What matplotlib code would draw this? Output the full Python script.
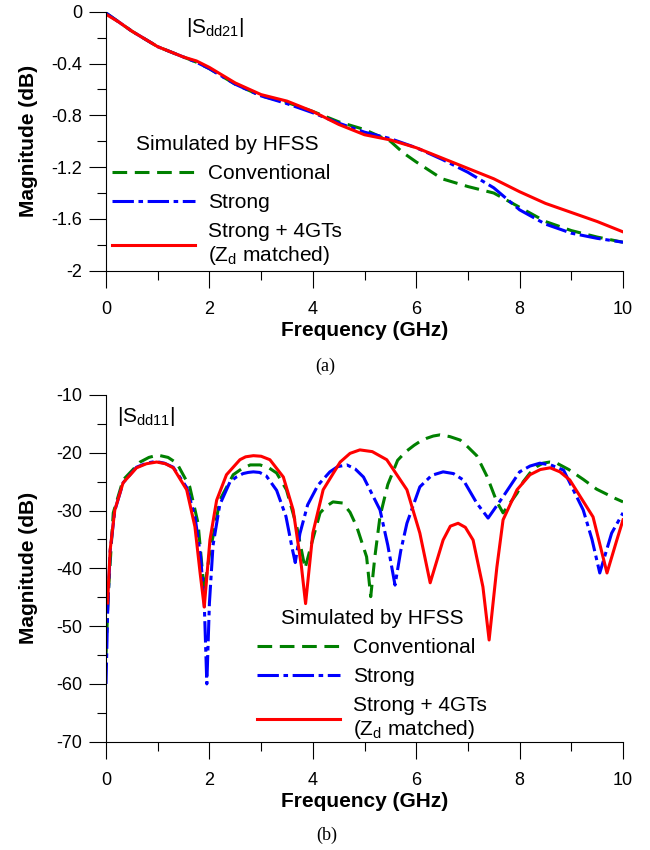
import matplotlib
matplotlib.use('Agg')
import matplotlib.pyplot as plt
from matplotlib.ticker import MultipleLocator, FuncFormatter

plt.rcParams['font.family'] = ['Liberation Sans', 'DejaVu Sans']
plt.rcParams['mathtext.fontset'] = 'custom'
plt.rcParams['mathtext.rm'] = 'Liberation Sans'
plt.rcParams['mathtext.it'] = 'Liberation Sans'
plt.rcParams['axes.unicode_minus'] = False

# ---- data: (a) |Sdd21| ----
f21_red = [0, 0.25, 0.5, 0.75, 1, 1.25, 1.5, 1.75, 2, 2.5, 3, 3.5, 4, 4.5, 4.75, 5, 5.25, 5.5, 5.75,
           6, 6.5, 7, 7.5, 8, 8.5, 9, 9.5, 10]
s21_red = [-0.02, -0.08, -0.15, -0.21, -0.27, -0.31, -0.35, -0.38, -0.43, -0.55, -0.64, -0.69, -0.77,
           -0.87, -0.91, -0.95, -0.97, -0.99, -1.02, -1.05, -1.13, -1.21, -1.29, -1.39, -1.48, -1.55,
           -1.62, -1.70]
f21_blue = [0, 0.25, 0.5, 0.75, 1, 1.25, 1.5, 1.75, 2, 2.5, 3, 3.5, 4, 4.5, 5, 5.5, 6, 6.5, 7, 7.5,
            8, 8.5, 9, 9.5, 10]
s21_blue = [-0.01, -0.08, -0.15, -0.21, -0.27, -0.31, -0.35, -0.39, -0.44, -0.56, -0.65, -0.71, -0.78,
            -0.86, -0.93, -0.98, -1.05, -1.14, -1.24, -1.36, -1.53, -1.64, -1.71, -1.75, -1.78]
f21_green = [0, 0.25, 0.5, 0.75, 1, 1.25, 1.5, 1.75, 2, 2.5, 3, 3.5, 4, 4.5, 5, 5.5, 5.75, 6, 6.5, 7,
             7.5, 8, 8.5, 9, 9.5, 10]
s21_green = [-0.01, -0.08, -0.15, -0.21, -0.27, -0.31, -0.35, -0.39, -0.44, -0.56, -0.65, -0.70,
             -0.77, -0.85, -0.91, -1.00, -1.09, -1.16, -1.29, -1.35, -1.40, -1.51, -1.62, -1.69,
             -1.74, -1.78]

# ---- data: (b) |Sdd11| ----
f11_green = [0.0, 0.04, 0.14, 0.33, 0.66, 0.83, 1.0, 1.2, 1.37, 1.62, 1.78, 1.9, 2.01, 2.11, 2.2, 2.46,
             2.62, 2.79, 2.98, 3.15, 3.3, 3.49, 3.69, 3.85, 3.98, 4.14, 4.27, 4.39, 4.58, 4.72, 4.85,
             5.04, 5.12, 5.2, 5.3, 5.45, 5.64, 5.8, 5.96, 6.08, 6.2, 6.33, 6.46, 6.65, 6.85, 7.0, 7.17,
             7.37, 7.56, 7.68, 7.95, 8.07, 8.2, 8.33, 8.45, 8.58, 8.72, 8.95, 9.23, 9.49, 9.85, 10.0]
s11_green = [-55, -45, -30.4, -24.7, -21.6, -20.8, -20.4, -20.8, -21.8, -25.9, -32.2, -44, -37, -32.8,
             -28.2, -23.8, -22.8, -22.1, -22.1, -22.6, -23.5, -26.4, -32.8, -40, -35.6, -30.4, -29.2,
             -28.5, -28.7, -30.3, -32.8, -38, -44.9, -38, -31, -25.5, -21.3, -19.8, -18.7, -18.0,
             -17.5, -17.1, -16.9, -17.2, -17.8, -19.0, -20.5, -24.1, -28.5, -30.4, -27, -25.0, -23.5,
             -22.4, -21.8, -21.6, -21.8, -22.9, -24.6, -26.3, -27.9, -28.5]
f11_blue = [0.0, 0.03, 0.08, 0.17, 0.33, 0.59, 0.78, 0.96, 1.13, 1.3, 1.56, 1.72, 1.83, 1.9, 1.95, 2.0,
            2.07, 2.2, 2.4, 2.52, 2.65, 2.75, 2.85, 2.97, 3.1, 3.3, 3.48, 3.6, 3.66, 3.75, 3.9, 4.1,
            4.33, 4.48, 4.66, 4.82, 4.98, 5.3, 5.45, 5.59, 5.7, 5.82, 6.07, 6.3, 6.52, 6.72, 6.91,
            7.17, 7.39, 7.68, 8.0, 8.2, 8.39, 8.6, 8.85, 9.23, 9.4, 9.55, 9.78, 10.0]
s11_blue = [-60, -48, -37, -30, -25.2, -22.5, -21.8, -21.5, -21.8, -22.5, -26, -31, -38, -46, -60, -46,
            -36, -29, -25, -24.2, -23.6, -23.4, -23.3, -23.4, -24, -26.5, -31, -36.5, -39, -34, -29,
            -25.6, -23.3, -22.4, -22.1, -22.8, -24.2, -29.9, -36, -42.9, -37, -32.2, -25.9, -23.9,
            -23.3, -23.6, -24.7, -28.7, -31.3, -27.6, -23.3, -22.3, -21.8, -22.1, -23, -29.9, -35,
            -40.8, -33.9, -30.4]
f11_red = [0.03, 0.08, 0.17, 0.33, 0.59, 0.78, 0.98, 1.15, 1.3, 1.56, 1.72, 1.82, 1.9, 2.01, 2.14, 2.33,
           2.59, 2.7, 2.85, 3.0, 3.17, 3.43, 3.62, 3.78, 3.86, 4.0, 4.2, 4.53, 4.72, 4.91, 5.15, 5.43,
           5.82, 6.07, 6.27, 6.52, 6.66, 6.81, 6.95, 7.1, 7.29, 7.41, 7.56, 7.68, 7.95, 8.2, 8.4, 8.59,
           8.78, 8.97, 9.42, 9.69, 9.88, 10.0]
s11_red = [-46, -36.8, -29.9, -25.2, -22.6, -21.9, -21.6, -21.9, -22.6, -26.4, -32.8, -40.8, -46.7,
           -35.1, -28.2, -23.8, -21.2, -20.7, -20.5, -20.6, -21.2, -24.2, -29.9, -39.7, -46.1, -33.9,
           -26.4, -21.6, -20.1, -19.5, -19.8, -21.2, -26.4, -33.9, -42.5, -35.1, -32.7, -32.2, -32.9,
           -35.1, -43.2, -52.4, -39.8, -31.6, -26.4, -23.8, -22.9, -22.6, -23.3, -24.7, -31.1, -40.8,
           -35.1, -31.6]

labels = ['Conventional', 'Strong', 'Strong + 4GTs\n(Z$_{\\rm d}$ matched)']
green = '#008000'
blue = '#0000ff'
red = '#ff0000'

fig = plt.figure(figsize=(6.5, 8.5), dpi=100)
ax1 = fig.add_axes([0.1631, 0.6815, 0.7954, 0.3047])
ax2 = fig.add_axes([0.1631, 0.1274, 0.7954, 0.4079])

fmt = FuncFormatter(lambda v, p: '%g' % (round(v, 6) + 0.0))


def style(ax, ylo, yhi, ymaj, ymin):
    for s in ['top', 'right']:
        ax.spines[s].set_visible(False)
    ax.set_xlim(0, 10)
    ax.set_ylim(ylo, yhi)
    ax.xaxis.set_major_locator(MultipleLocator(2))
    ax.xaxis.set_minor_locator(MultipleLocator(1))
    ax.yaxis.set_major_locator(MultipleLocator(ymaj))
    ax.yaxis.set_minor_locator(MultipleLocator(ymin))
    ax.yaxis.set_major_formatter(fmt)
    ax.tick_params(which='major', direction='out', length=12, width=0.8, labelsize=13)
    ax.tick_params(which='minor', direction='out', length=6.5, width=0.8)
    ax.tick_params(axis='x', which='major', pad=10)
    ax.tick_params(axis='y', which='major', pad=5)
    ax.set_xlabel('Frequency (GHz)', fontsize=15, fontweight='bold', labelpad=2)
    ax.set_ylabel('Magnitude (dB)', fontsize=15, fontweight='bold')
    ax.yaxis.set_label_coords(-0.132, 0.5)


def draw(ax, fg, sg, fb, sb, fr, sr):
    ax.plot(fg, sg, color=green, lw=2.2, ls=(0, (4.8, 2.5)), label=labels[0])
    ax.plot(fb, sb, color=blue, lw=2.2, ls=(0, (7, 1.5, 1.5, 1.5)), label=labels[1])
    ax.plot(fr, sr, color=red, lw=2.2, label=labels[2])


draw(ax1, f21_green, s21_green, f21_blue, s21_blue, f21_red, s21_red)
style(ax1, -2, 0, 0.4, 0.2)
ax1.text(0.155, 0.941, '|S$_{\\rm dd21}$|', transform=ax1.transAxes, fontsize=15, ha='left', va='center')
leg1 = ax1.legend(loc='upper left', bbox_to_anchor=(112 / 650, 1 - 135 / 850), bbox_transform=fig.transFigure,
                  frameon=False, fontsize=15, title='Simulated by HFSS', title_fontsize=15,
                  handlelength=4.0, handletextpad=0.6, labelspacing=0.48, borderpad=0, borderaxespad=0)

draw(ax2, f11_green, s11_green, f11_blue, s11_blue, f11_red, s11_red)
style(ax2, -70, -10, 10, 5)
ax2.text(0.021, 0.939, '|S$_{\\rm dd11}$|', transform=ax2.transAxes, fontsize=15, ha='left', va='center')
leg2 = ax2.legend(loc='upper left', bbox_to_anchor=(257 / 650, 1 - 609 / 850), bbox_transform=fig.transFigure,
                  frameon=False, fontsize=15, title='Simulated by HFSS', title_fontsize=15,
                  handlelength=4.0, handletextpad=0.6, labelspacing=0.48, borderpad=0, borderaxespad=0)

fig.text(0.5, 1 - 366 / 850, '(a)', fontsize=13, family='Liberation Serif', ha='center', va='center')
fig.text(0.503, 1 - 835 / 850, '(b)', fontsize=13, family='Liberation Serif', ha='center', va='center')

fig.savefig('out.png', dpi=100)
